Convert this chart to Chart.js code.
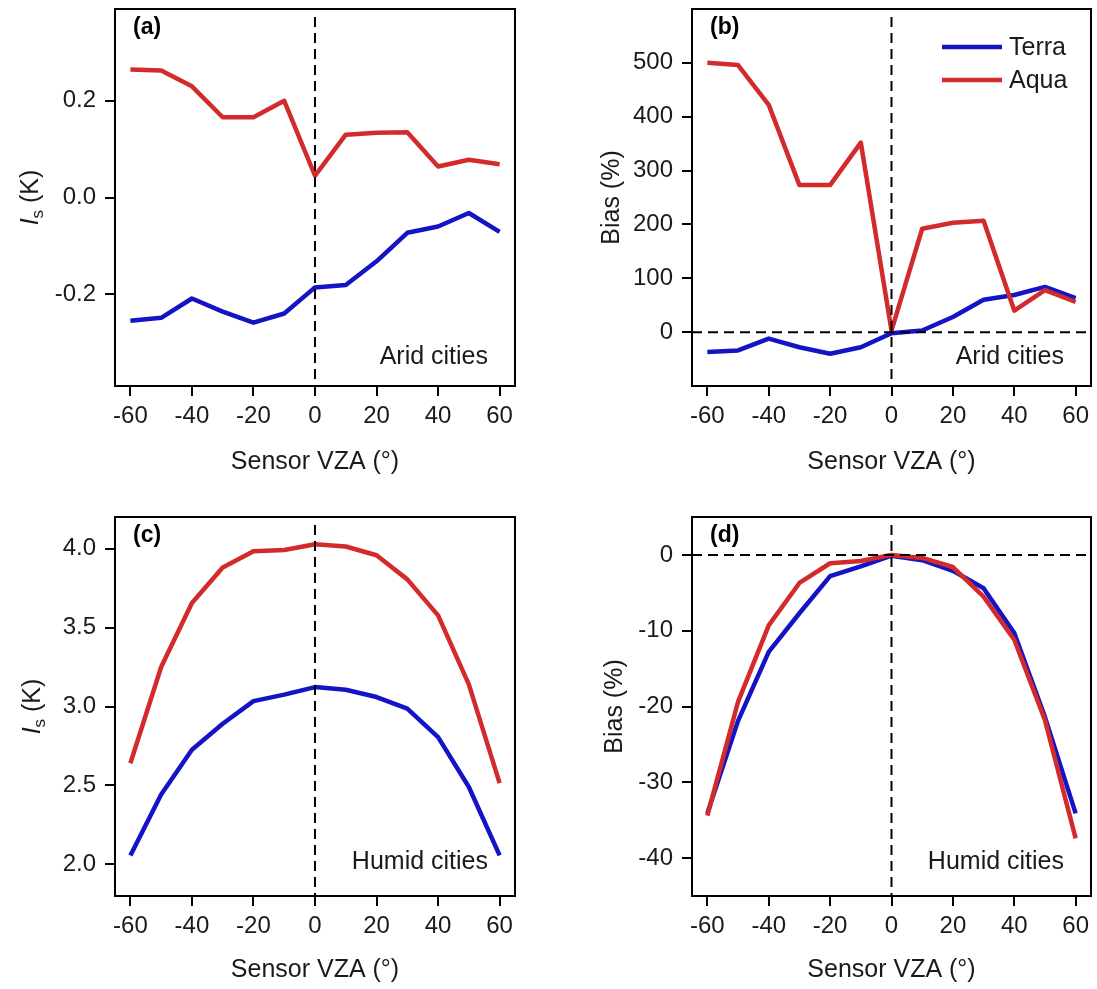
<!DOCTYPE html>
<html>
<head>
<meta charset="utf-8">
<title>Sensor VZA - Is and bias</title>
<script src="https://cdn.jsdelivr.net/npm/chart.js@4.4.1/dist/chart.umd.min.js"></script>
<style>
    body { margin: 0; background: #fff; }
    #wrap { position: relative; width: 1097px; height: 989px; }
    canvas { position: absolute; }
</style>
</head>
<body>
<div id="wrap">
    <canvas id="panelA" width="548" height="480" style="left:0;top:0;width:548px;height:480px"></canvas>
    <canvas id="panelB" width="549" height="480" style="left:548px;top:0;width:549px;height:480px"></canvas>
    <canvas id="panelC" width="548" height="509" style="left:0;top:480px;width:548px;height:509px"></canvas>
    <canvas id="panelD" width="549" height="509" style="left:548px;top:480px;width:549px;height:509px"></canvas>
</div>
<script>
// Sensor VZA (degrees), shared by all panels
const vza = [-60, -50, -40, -30, -20, -10, 0, 10, 20, 30, 40, 50, 60];

// (a) Is, arid cities (K)
const aridIsTerra = [-0.255, -0.249, -0.209, -0.236, -0.259, -0.240, -0.186, -0.181, -0.132, -0.073, -0.060, -0.032, -0.071];
const aridIsAqua = [0.265, 0.263, 0.230, 0.166, 0.166, 0.200, 0.045, 0.130, 0.134, 0.135, 0.064, 0.078, 0.069];

// (b) Bias, arid cities (%)
const aridBiasTerra = [-37, -34, -12, -28, -40, -28, -2, 3, 28, 60, 69, 84, 63];
const aridBiasAqua = [500, 496, 422, 273, 273, 352, 3, 192, 203, 207, 40, 78, 56];

// (c) Is, humid cities (K)
const humidIsTerra = [2.057, 2.443, 2.726, 2.891, 3.034, 3.075, 3.123, 3.106, 3.060, 2.986, 2.806, 2.490, 2.057];
const humidIsAqua = [2.641, 3.250, 3.655, 3.880, 3.983, 3.991, 4.027, 4.013, 3.958, 3.805, 3.577, 3.140, 2.515];

// (d) Bias, humid cities (%)
const humidBiasTerra = [-34.1, -21.9, -12.8, -7.7, -2.8, -1.5, -0.1, -0.7, -2.1, -4.4, -10.3, -21.4, -34.1];
const humidBiasAqua = [-34.4, -19.4, -9.3, -3.7, -1.1, -0.8, 0, -0.4, -1.6, -5.5, -11.2, -21.8, -37.4];

// Tick labels
const xTicks = [-60, -40, -20, 0, 20, 40, 60];
const yTicksA = [-0.2, 0.0, 0.2];
const yTicksB = [0, 100, 200, 300, 400, 500];
const yTicksC = [2.0, 2.5, 3.0, 3.5, 4.0];
const yTicksD = [-40, -30, -20, -10, 0];

const TERRA = '#1414C6';
const AQUA = '#D32A2C';
const FONT = "'Liberation Sans', Arial, sans-serif";

Chart.defaults.font.family = FONT;
Chart.defaults.color = '#1a1a1a';

/**
 * Frame, zero lines, panel tag, note, y title and legend
 */
const panelDecor = {
    id: 'panelDecor',
    afterDatasetsDraw(chart, args, opts) {
        const { ctx, chartArea: a, scales: { x, y } } = chart;
        ctx.save();

        // dashed zero lines
        ctx.strokeStyle = '#000';
        ctx.lineWidth = 2;
        ctx.setLineDash([10, 6]);
        const x0 = x.getPixelForValue(0);
        ctx.beginPath();
        ctx.moveTo(x0, a.top + 8);
        ctx.lineTo(x0, a.bottom);
        ctx.stroke();
        if (opts.zeroY) {
            const y0 = y.getPixelForValue(0);
            ctx.beginPath();
            ctx.moveTo(a.left, y0);
            ctx.lineTo(a.right, y0);
            ctx.stroke();
        }
        ctx.setLineDash([]);

        // box
        ctx.strokeRect(a.left, a.top, a.width, a.height);

        // panel tag
        ctx.fillStyle = '#000';
        ctx.font = 'bold 23px ' + FONT;
        ctx.textAlign = 'left';
        ctx.textBaseline = 'middle';
        ctx.fillText(opts.tag, a.left + 18, a.top + 19);

        // note
        ctx.fillStyle = '#1a1a1a';
        ctx.font = '25px ' + FONT;
        ctx.textAlign = 'right';
        ctx.fillText(opts.note, a.right - 27, a.bottom - opts.noteOffset);

        // legend
        if (opts.legend) {
            chart.data.datasets.forEach((ds, i) => {
                const ly = a.top + 38 + i * 33;
                ctx.strokeStyle = ds.borderColor;
                ctx.lineWidth = 4.5;
                ctx.beginPath();
                ctx.moveTo(a.right - 149, ly);
                ctx.lineTo(a.right - 89, ly);
                ctx.stroke();
                ctx.textAlign = 'left';
                ctx.fillText(ds.label, a.right - 82, ly + 1);
            });
        }

        // y title, rotated, with optional subscript
        ctx.translate(opts.yTitleX, (a.top + a.bottom) / 2);
        ctx.rotate(-Math.PI / 2);
        ctx.textAlign = 'left';
        const parts = opts.yTitle;
        const fonts = parts.map(p => (p.italic ? 'italic ' : '') + (p.sub ? '17px ' : '25px ') + FONT);
        const widths = parts.map((p, i) => { ctx.font = fonts[i]; return ctx.measureText(p.text).width; });
        let cx = -widths.reduce((s, w) => s + w, 0) / 2;
        parts.forEach((p, i) => {
            ctx.font = fonts[i];
            ctx.fillText(p.text, cx, p.sub ? 7 : 0);
            cx += widths[i];
        });

        ctx.restore();
    }
};

/**
 * Build one panel
 */
function makePanel(id, cfg) {
    const ctx = document.getElementById(id).getContext('2d');
    const toPoints = arr => vza.map((v, i) => ({ x: v, y: arr[i] }));

    new Chart(ctx, {
        type: 'line',
        data: {
            datasets: [{
                label: 'Terra',
                data: toPoints(cfg.terra),
                borderColor: TERRA,
                order: 2
            }, {
                label: 'Aqua',
                data: toPoints(cfg.aqua),
                borderColor: AQUA,
                order: 1
            }]
        },
        options: {
            responsive: false,
            animation: false,
            events: [],
            elements: {
                line: { borderWidth: 4.5, tension: 0, borderJoinStyle: 'round', borderCapStyle: 'butt' },
                point: { radius: 0 }
            },
            layout: { padding: { top: cfg.top, right: cfg.right, left: 0, bottom: 0 } },
            plugins: {
                legend: { display: false },
                tooltip: { enabled: false },
                panelDecor: cfg.decor
            },
            scales: {
                x: {
                    type: 'linear',
                    min: -65,
                    max: 65,
                    afterBuildTicks: s => { s.ticks = xTicks.map(v => ({ value: v })); },
                    afterFit: s => { s.height = cfg.xHeight; s.paddingLeft = 0; s.paddingRight = 0; },
                    grid: { drawOnChartArea: false, tickLength: 10, lineWidth: 2, color: '#000' },
                    border: { display: false },
                    ticks: { font: { size: 24 }, padding: 6, maxRotation: 0, callback: v => String(v) },
                    title: { display: true, text: 'Sensor VZA (°)', font: { size: 25 }, padding: { bottom: cfg.titlePad } }
                },
                y: {
                    type: 'linear',
                    min: cfg.yMin,
                    max: cfg.yMax,
                    afterBuildTicks: s => { s.ticks = cfg.yTicks.map(v => ({ value: v })); },
                    afterFit: s => { s.width = cfg.yWidth; s.paddingTop = 0; s.paddingBottom = 0; },
                    grid: { drawOnChartArea: false, tickLength: 10, lineWidth: 2, color: '#000' },
                    border: { display: false },
                    ticks: { font: { size: 24 }, padding: 9, callback: v => cfg.fmt(v) }
                }
            }
        },
        plugins: [panelDecor]
    });
}

const isTitle = [{ text: 'I', italic: true }, { text: 's', sub: true }, { text: ' (K)' }];
const biasTitle = [{ text: 'Bias (%)' }];

makePanel('panelA', {
    terra: aridIsTerra, aqua: aridIsAqua,
    yMin: -0.39, yMax: 0.39, yTicks: yTicksA, fmt: v => v.toFixed(1),
    top: 9, right: 33, yWidth: 115, xHeight: 94, titlePad: 3,
    decor: { tag: '(a)', note: 'Arid cities', noteOffset: 29, yTitle: isTitle, yTitleX: 31 }
});

makePanel('panelB', {
    terra: aridBiasTerra, aqua: aridBiasAqua,
    yMin: -100, yMax: 600, yTicks: yTicksB, fmt: v => String(v),
    top: 9, right: 6, yWidth: 144, xHeight: 94, titlePad: 3,
    decor: { tag: '(b)', note: 'Arid cities', noteOffset: 29, yTitle: biasTitle, yTitleX: 64, zeroY: true, legend: true }
});

makePanel('panelC', {
    terra: humidIsTerra, aqua: humidIsAqua,
    yMin: 1.8, yMax: 4.2, yTicks: yTicksC, fmt: v => v.toFixed(1),
    top: 37, right: 33, yWidth: 115, xHeight: 93, titlePad: 4,
    decor: { tag: '(c)', note: 'Humid cities', noteOffset: 34, yTitle: isTitle, yTitleX: 33 }
});

makePanel('panelD', {
    terra: humidBiasTerra, aqua: humidBiasAqua,
    yMin: -45, yMax: 5, yTicks: yTicksD, fmt: v => String(v),
    top: 37, right: 6, yWidth: 144, xHeight: 93, titlePad: 4,
    decor: { tag: '(d)', note: 'Humid cities', noteOffset: 34, yTitle: biasTitle, yTitleX: 67, zeroY: true }
});
</script>
</body>
</html>
